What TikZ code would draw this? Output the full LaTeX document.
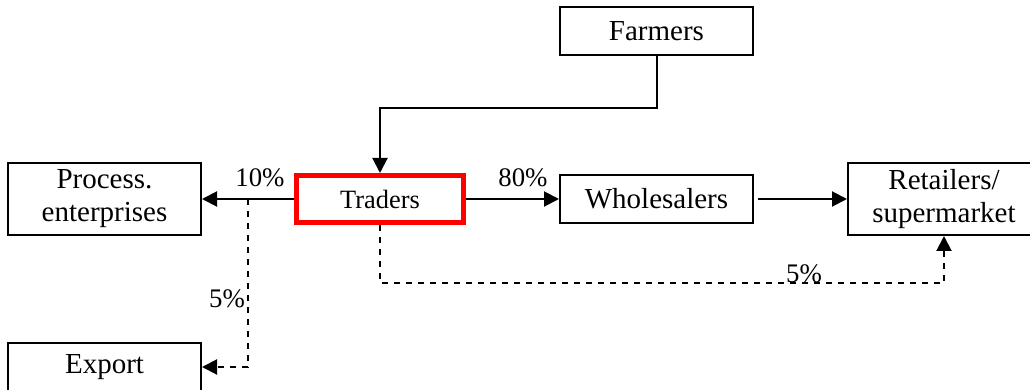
\documentclass[tikz,border=0pt]{standalone}
\usepackage{fontspec}
\setmainfont{Liberation Serif}
\usetikzlibrary{arrows.meta, positioning}
\definecolor{tradered}{HTML}{FF0000}
\tikzset{
  % box of the supply chain
  box/.style={draw=black, line width=1pt, minimum width=96.5pt, minimum height=24pt,
    inner sep=0pt, align=center, font=\fontsize{14.5}{16.5}\selectfont},
  tallbox/.style={box, minimum height=36pt},
  % highlighted actor
  hlbox/.style={box, draw=tradered, line width=2.5pt, minimum width=83.5pt,
    minimum height=23.5pt, font=\fontsize{13.2}{15}\selectfont},
  % flows of product
  flow/.style={-{Triangle[length=7.5pt,width=7.5pt]}, line width=1pt},
  minorflow/.style={flow, dash pattern=on 3pt off 3pt},
  % share labels
  pct/.style={font=\fontsize{13.4}{15}\selectfont, inner sep=0pt, anchor=base},
}
\begin{document}
\begin{tikzpicture}[x=0.5pt, y=-0.5pt]
  \useasboundingbox (0,0) rectangle (1030,390);
  \clip (0,0) rectangle (1030,390);
  \node[box] (farmers) at (656.5,31) {Farmers};
  \node[hlbox] (traders) at (380,199) {Traders};
  \node[tallbox] (process) at (104.5,199) {Process.\\enterprises};
  \node[box] (export) at (104.5,367) {Export};
  \node[box] (wholesalers) at (656.5,199) {Wholesalers};
  \node[tallbox, minimum width=96pt] (retailers) at (944,199) {Retailers/\\supermarket};
  \coordinate (split) at (248,199);
  \draw[flow] (farmers.south) -- ++(0,52) -| (traders.north);
  \draw[flow] (traders) -- (process);
  \draw[flow] (traders) -- (wholesalers);
  \draw[flow] ([xshift=2pt]wholesalers.east) -- (retailers);
  \draw[minorflow] (split) |- (export);
  \draw[minorflow] (traders.south) -- ++(0,58) -| (retailers.south);
  \node[pct] (share10) at (260,187) {10\%};
  \node[pct] (share80) at (523,187) {80\%};
  \node[pct] (share5exp) at (227,307) {5\%};
  \node[pct] (share5ret) at (804,283) {5\%};
\end{tikzpicture}
\end{document}
